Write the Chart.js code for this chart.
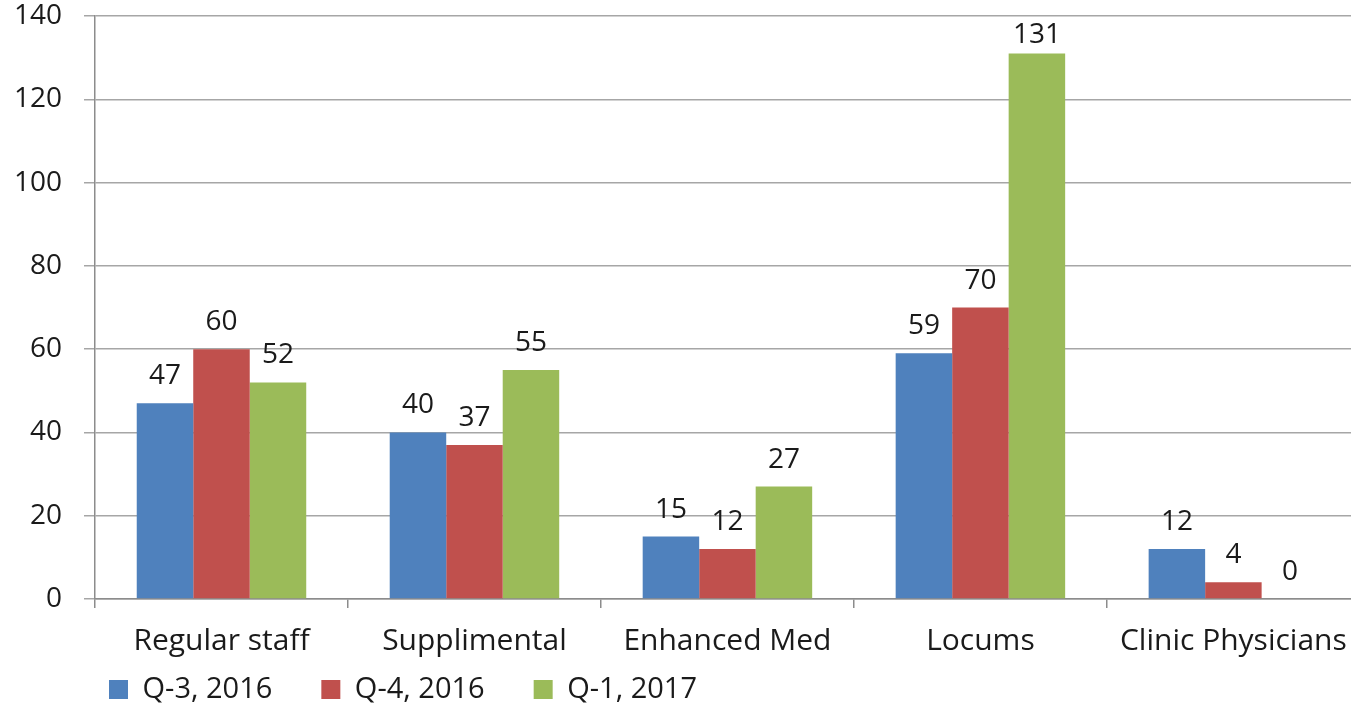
<!DOCTYPE html>
<html>
<head>
  <title>Physician staffing by quarter</title>
  <script src="https://cdn.jsdelivr.net/npm/chart.js"></script>
  <style>
    html, body { margin: 0; padding: 0; background: #fff; overflow: hidden; }
    #wrap { width: 1362px; height: 704px; position: relative; }
  </style>
</head>
<body>
  <div id="wrap"><canvas id="chart"></canvas></div>

  <script>
    const categories = ['Regular staff', 'Supplimental', 'Enhanced Med', 'Locums', 'Clinic Physicians'];
    const seriesNames = ['Q-3, 2016', 'Q-4, 2016', 'Q-1, 2017'];
    const q3_2016 = [47, 40, 15, 59, 12];
    const q4_2016 = [60, 37, 12, 70, 4];
    const q1_2017 = [52, 55, 27, 131, 0];
    const colors = ['#4F81BD', '#C0504D', '#9BBB59'];
    const yTicks = [0, 20, 40, 60, 80, 100, 120, 140];

    const FONT = "'Open Sans', 'DejaVu Sans', sans-serif";
    const TEXT = '#1a1a1a';

    // value above each bar, kept inside the plot at the top
    const valueLabels = {
      id: 'valueLabels',
      afterDatasetsDraw(chart) {
        const ctx = chart.ctx;
        const minBase = chart.chartArea.top + 27;
        ctx.save();
        ctx.font = '28px ' + FONT;
        ctx.fillStyle = TEXT;
        ctx.textAlign = 'center';
        ctx.textBaseline = 'alphabetic';
        chart.data.datasets.forEach((ds, i) => {
          chart.getDatasetMeta(i).data.forEach((bar, j) => {
            ctx.fillText(String(ds.data[j]), bar.x, Math.max(bar.y - 19, minBase));
          });
        });
        ctx.restore();
      }
    };

    // legend sits a bit in from the left, just under the category labels
    const legendPlace = {
      id: 'legendPlace',
      beforeDraw(chart) {
        const lg = chart.legend;
        const pad = lg.options.labels.padding;
        lg.left = chart.chartArea.left + 14 - pad;
        lg.top = chart.chartArea.bottom + 76 - pad;
      }
    };

    new Chart(document.getElementById('chart'), {
      type: 'bar',
      data: {
        labels: categories,
        datasets: [
          { label: seriesNames[0], data: q3_2016, backgroundColor: colors[0] },
          { label: seriesNames[1], data: q4_2016, backgroundColor: colors[1] },
          { label: seriesNames[2], data: q1_2017, backgroundColor: colors[2] }
        ]
      },
      options: {
        responsive: true,
        maintainAspectRatio: false,
        animation: false,
        layout: { padding: { left: 0, right: 2, top: 16, bottom: 0 } },
        datasets: { bar: { categoryPercentage: 0.67, barPercentage: 1.0 } },
        plugins: {
          tooltip: { enabled: false },
          legend: {
            position: 'bottom',
            align: 'start',
            maxHeight: 30,
            labels: {
              boxWidth: 19,
              boxHeight: 19,
              padding: 49,
              color: TEXT,
              font: { family: FONT, size: 29 }
            }
          }
        },
        scales: {
          x: {
            offset: true,
            grid: {
              offset: true,
              drawOnChartArea: false,
              drawTicks: true,
              tickLength: 9,
              color: '#8c8c8c',
              lineWidth: 1.5
            },
            border: { color: '#8c8c8c', width: 1.5 },
            ticks: {
              autoSkip: false,
              maxRotation: 0,
              padding: 15,
              color: TEXT,
              font: { family: FONT, size: 30 }
            }
          },
          y: {
            min: 0,
            max: 140,
            afterBuildTicks(scale) {
              scale.ticks = yTicks.map(v => ({ value: v }));
            },
            afterFit(scale) {
              scale.width = 95;
              scale.paddingTop = 0;
            },
            grid: {
              color: '#a6a6a6',
              lineWidth: 1.5,
              tickLength: 11
            },
            border: { color: '#8c8c8c', width: 1.5 },
            ticks: {
              padding: 22,
              color: TEXT,
              font: { family: FONT, size: 28 }
            }
          }
        }
      },
      plugins: [valueLabels, legendPlace]
    });
  </script>
</body>
</html>
